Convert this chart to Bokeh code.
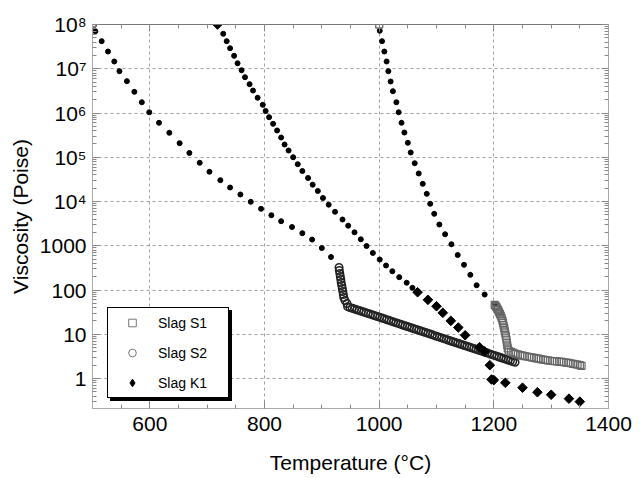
from bokeh.plotting import figure
from bokeh.models import (Range1d, LinearAxis, LogAxis, FixedTicker, Legend,
                          LegendItem, CustomJSTickFormatter)
from bokeh.embed import file_html
from bokeh.resources import INLINE

# ---- model curves (small black dots) ----
s1_model_temp = [1001, 1005, 1009, 1013, 1016, 1020, 1024, 1030, 1034, 1039, 1044, 1050,
                 1055, 1062, 1069, 1076, 1083, 1089, 1096, 1105, 1115, 1126, 1137, 1148,
                 1159, 1170, 1184, 1202]
s1_model_visc = [7.21e7, 4.20e7, 2.45e7, 1.46e7, 8.81e6, 5.15e6, 3.11e6, 1.75e6, 1.04e6,
                 6.01e5, 3.62e5, 2.12e5, 1.28e5, 7.33e4, 4.30e4, 2.51e4, 1.49e4, 8.87e3,
                 5.27e3, 3.02e3, 1.82e3, 1.08e3, 618, 371, 220, 128, 79, 48.8]

s2_model_temp = [505, 516, 527, 538, 547, 560, 573, 586, 599, 616, 634, 652, 669, 687, 704,
                 723, 740, 758, 776, 794, 812, 829, 848, 866, 883, 900, 916]
s2_model_visc = [7.06e7, 4.20e7, 2.45e7, 1.46e7, 8.81e6, 5.24e6, 3.01e6, 1.75e6, 1.04e6,
                 6.01e5, 3.57e5, 2.08e5, 1.25e5, 7.50e4, 4.70e4, 3.03e4, 2.07e4, 1.44e4,
                 9.84e3, 6.84e3, 4.90e3, 3.59e3, 2.65e3, 1.92e3, 1.38e3, 889, 557]

k1_model_temp = [728, 734, 740, 747, 753, 760, 766, 774, 780, 788, 797, 802, 808, 815, 822,
                 829, 835, 842, 850, 858, 866, 876, 884, 893, 902, 912, 923, 936, 946, 957,
                 968, 978, 989, 1001, 1012, 1023, 1035, 1048, 1058]
k1_model_visc = [6.17e7, 4.20e7, 2.91e7, 1.96e7, 1.33e7, 9.27e6, 6.44e6, 4.48e6, 3.22e6,
                 2.21e6, 1.53e6, 1.11e6, 8.04e5, 5.70e5, 4.03e5, 2.79e5, 1.94e5, 1.42e5,
                 1.00e5, 6.97e4, 4.89e4, 3.40e4, 2.40e4, 1.73e4, 1.20e4, 8.47e3, 5.85e3,
                 3.92e3, 2.84e3, 2.01e3, 1.40e3, 986, 686, 489, 358, 265, 195, 146, 112]

# ---- measured data ----
s1_temp = [1000,
           1201.5, 1203, 1204.5, 1206, 1207.5, 1209, 1210.5, 1212, 1213.5, 1215, 1216,
           1217, 1218, 1219, 1220, 1221, 1222, 1222.8, 1223.5, 1224.3,
           1226, 1230, 1234, 1238, 1242, 1246, 1250, 1254, 1258, 1262, 1266, 1270, 1274,
           1278, 1282, 1286, 1290, 1294, 1298, 1302, 1306, 1310, 1314, 1318, 1322, 1326,
           1330, 1334, 1338, 1342, 1346, 1350, 1353]
s1_visc = [1e8,
           46, 44, 41, 38, 35, 32, 29, 26.5, 23.5, 20.5, 18,
           15.8, 13.8, 12, 10.4, 9.0, 7.6, 6.5, 5.6, 4.8,
           4.3, 4.0, 3.8, 3.62, 3.5, 3.38, 3.3, 3.22, 3.14, 3.06, 2.99, 2.92, 2.86,
           2.8, 2.74, 2.68, 2.62, 2.57, 2.52, 2.49, 2.46, 2.43, 2.4, 2.37, 2.33, 2.29,
           2.25, 2.21, 2.15, 2.1, 2.05, 2.0, 1.93]

s2_temp = [500,
           930, 930.5, 931.4, 932.2, 933.1, 933.8, 934.8, 935.7, 936.6, 937.5, 938.3, 940.4,
           943.9,
           945, 949, 953, 957, 961, 965, 969, 973, 977, 981, 985, 989, 993, 997, 1001,
           1005, 1009, 1013, 1017, 1021, 1025, 1029, 1033, 1037, 1041, 1045, 1049, 1053,
           1057, 1061, 1065, 1069, 1073, 1077, 1081, 1085, 1089, 1093, 1097, 1101, 1105,
           1109, 1113, 1117, 1121, 1125, 1129, 1133, 1137, 1141, 1145, 1149, 1153, 1157,
           1161, 1165, 1169, 1173, 1177, 1181, 1185, 1189, 1193, 1197, 1201, 1205, 1209,
           1213, 1217, 1221, 1225, 1229, 1233, 1237]
s2_visc = [1e8,
           322, 276, 236, 202, 173, 148, 126, 108, 92.5, 79, 67.7, 58,
           49.6,
           42.0, 40.3, 38.8, 37.2, 35.8, 34.4, 33.1, 31.8, 30.6, 29.4, 28.2, 27.1, 26.1,
           25.1, 24.1, 23.2, 22.3, 21.4, 20.6, 19.8, 19.0, 18.3, 17.6, 16.9, 16.2, 15.6,
           15.0, 14.4, 13.8, 13.3, 12.8, 12.3, 11.8, 11.4, 10.9, 10.5, 10.1, 9.7, 9.3,
           8.95, 8.6, 8.27, 7.95, 7.64, 7.34, 7.06, 6.78, 6.52, 6.27, 6.03, 5.79, 5.57,
           5.35, 5.14, 4.94, 4.75, 4.57, 4.39, 4.22, 4.05, 3.90, 3.75, 3.60, 3.46, 3.33,
           3.20, 3.07, 2.95, 2.84, 2.73, 2.62, 2.52, 2.42, 2.33]

k1_temp = [718, 1067, 1085, 1100, 1111, 1125, 1138, 1150, 1175, 1184, 1193, 1196, 1200,
           1220, 1250, 1276, 1300, 1331, 1350]
k1_visc = [1e8, 89, 60, 43, 30.5, 20.1, 14.2, 9.5, 5.1, 4.1, 2.0, 0.95, 0.92,
           0.80, 0.62, 0.49, 0.43, 0.35, 0.30]

series_labels = ["Slag S1", "Slag S2", "Slag K1"]

# ---- axes ticks ----
x_ticks = [600, 800, 1000, 1200, 1400]
x_minor = list(range(500, 1401, 50))
y_ticks = [1, 10, 100, 1000, 1e4, 1e5, 1e6, 1e7, 1e8]
y_tick_labels = ["1", "10", "100", "1000", "10\u2074", "10\u2075", "10\u2076",
                 "10\u2077", "10\u2078"]
y_minor = [m * 10.0 ** e for e in range(-1, 8) for m in range(2, 10)]

FONT = "Liberation Sans"

p = figure(width=644, height=478, x_range=Range1d(500, 1400),
           y_range=Range1d(0.21, 1e8), y_axis_type="log",
           output_backend="svg", toolbar_location=None,
           min_border_left=92, min_border_right=36, min_border_top=24,
           min_border_bottom=70)
p.outline_line_color = None
p.background_fill_color = "white"
p.border_fill_color = "white"

xt = FixedTicker(ticks=x_ticks, minor_ticks=x_minor)
yt = FixedTicker(ticks=y_ticks, minor_ticks=y_minor)

y_fmt = CustomJSTickFormatter(args=dict(tvals=y_ticks, tlabels=y_tick_labels), code="""
    for (let i = 0; i < tvals.length; i++) {
        if (Math.abs(tvals[i] - tick) <= 1e-6 * tvals[i]) { return tlabels[i]; }
    }
    return "";
""")
blank = CustomJSTickFormatter(code="return '';")


def style_axis(ax, line_color):
    ax.axis_line_color = line_color
    ax.major_tick_line_color = "#888888"
    ax.minor_tick_line_color = "#888888"
    ax.major_tick_in = 7
    ax.major_tick_out = 0
    ax.minor_tick_in = 4
    ax.minor_tick_out = 0
    ax.major_label_text_font = FONT
    ax.major_label_text_font_size = "21px"
    ax.major_label_text_color = "black"
    ax.axis_label_text_font = FONT
    ax.axis_label_text_font_size = "21px"
    ax.axis_label_text_font_style = "normal"
    ax.axis_label_text_color = "black"


xb = p.xaxis[0]
xb.ticker = xt
xb.axis_label = "Temperature (\u00b0C)"
style_axis(xb, "#aaaaaa")
xb.major_label_standoff = 8
xb.axis_label_standoff = 17

yl = p.yaxis[0]
yl.ticker = yt
yl.formatter = y_fmt
yl.axis_label = "Viscosity (Poise)"
style_axis(yl, "#aaaaaa")
yl.major_label_standoff = 6
yl.axis_label_standoff = 5

xa = LinearAxis(ticker=xt, formatter=blank)
style_axis(xa, "#777777")
xa.major_label_standoff = 0
p.add_layout(xa, "above")

yr = LogAxis(ticker=yt, formatter=blank)
style_axis(yr, "#aaaaaa")
yr.major_label_standoff = 0
p.add_layout(yr, "right")

for g, t in ((p.xgrid[0], xt), (p.ygrid[0], yt)):
    g.ticker = t
    g.grid_line_color = "#a0a0a0"
    g.grid_line_dash = "3 3"
    g.grid_line_width = 1

# model curves
dot = dict(size=5, fill_color="black", line_color="black")
p.scatter(s1_model_temp, s1_model_visc, marker="circle", **dot)
p.scatter(s2_model_temp, s2_model_visc, marker="circle", **dot)
p.scatter(k1_model_temp, k1_model_visc, marker="circle", **dot)

# measured series
s2_style = dict(fill_color=None, line_color="#222222", line_width=1.5)
s1_style = dict(fill_color=None, line_color="#666666", line_width=1.2)
k1_style = dict(fill_color="black", line_color="black")

r_s2 = p.scatter(s2_temp, s2_visc, marker="circle", size=7.5, **s2_style)
r_s1 = p.scatter(s1_temp, s1_visc, marker="square", size=7, **s1_style)
r_k1 = p.scatter(k1_temp, k1_visc, marker="square", angle=0.785398, size=6.8, **k1_style)

# legend keys, each sitting on its series' first point: thin open markers for
# S1/S2, and a diamond for K1 (legend glyphs are drawn unrotated)
thin = dict(fill_color=None, line_color="#777777", line_width=1)
key_s1 = p.scatter(s1_temp[:1], s1_visc[:1], marker="square", size=7, **thin)
key_s2 = p.scatter(s2_temp[:1], s2_visc[:1], marker="circle", size=7, **thin)
key_k1 = p.scatter(k1_temp[:1], k1_visc[:1], marker="diamond", size=6, **k1_style)


def make_legend(loc, shadow):
    labels = [" "] * 3 if shadow else series_labels
    items = [LegendItem(label=lab, renderers=[r])
             for lab, r in zip(labels, (key_s1, key_s2, key_k1))]
    leg = Legend(items=items, location=loc, padding=5, spacing=11, margin=0,
                 glyph_width=38, glyph_height=19, label_height=19, label_standoff=7,
                 label_width=65,
                 label_text_font=FONT, label_text_font_size="14px",
                 label_text_color="black", border_line_color="black",
                 border_line_width=1, border_line_alpha=1,
                 background_fill_color="black" if shadow else "white",
                 background_fill_alpha=1)
    return leg


p.add_layout(make_legend((18, 7), True), "center")
p.add_layout(make_legend((15, 10), False), "center")

open("out.html", "w").write(file_html(p, INLINE))
